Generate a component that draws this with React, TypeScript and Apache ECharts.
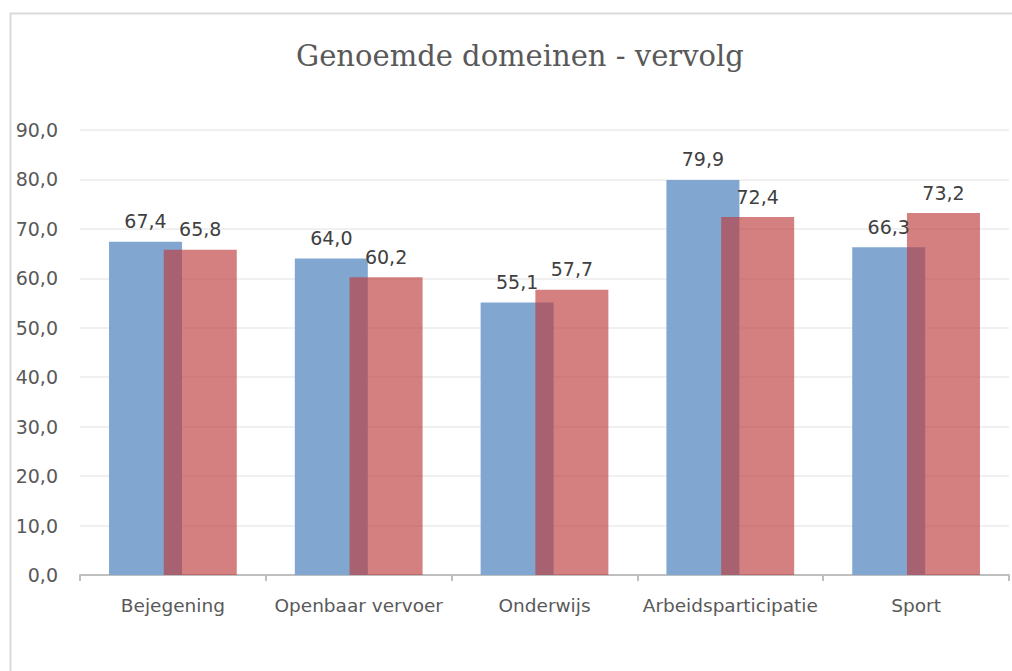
import React, { useEffect, useRef } from "react";
import * as echarts from "echarts";

const categories = ["Bejegening", "Openbaar vervoer", "Onderwijs", "Arbeidsparticipatie", "Sport"];
const seriesA = [67.4, 64.0, 55.1, 79.9, 66.3];
const seriesB = [65.8, 60.2, 57.7, 72.4, 73.2];
const titleText = "Genoemde domeinen - vervolg";

const fmt = (v: number) => v.toFixed(1).replace(".", ",");

export default function App() {
  const ref = useRef<HTMLDivElement>(null);
  useEffect(() => {
    if (!ref.current) return;
    document.body.style.margin = "0";
    document.body.style.overflow = "hidden";
    const chart = echarts.init(ref.current, null, { renderer: "svg" });
    const labelStyle = {
      show: true,
      position: "top",
      distance: 11,
      formatter: (p: any) => fmt(p.value),
      fontFamily: "DejaVu Sans",
      fontSize: 19,
      color: "#404040",
    };
    chart.setOption({
      animation: false,
      title: {
        text: titleText,
        left: 291,
        top: 36,
        textStyle: {
          fontFamily: "DejaVu Serif",
          fontSize: 29,
          fontWeight: "normal",
          color: "#595959",
        },
      },
      graphic: [
        {
          type: "rect",
          shape: { x: 10.5, y: 13.5, width: 1010, height: 700 },
          style: { fill: "none", stroke: "#D9D9D9", lineWidth: 2 },
          silent: true,
        },
      ],
      grid: { left: 80, right: 3, top: 130, bottom: 96 },
      xAxis: {
        type: "category",
        data: categories,
        axisLine: { lineStyle: { color: "#BFBFBF", width: 2 } },
        axisTick: { show: true, interval: 0, length: 6, lineStyle: { color: "#BFBFBF", width: 2 } },
        axisLabel: {
          interval: 0,
          fontFamily: "DejaVu Sans",
          fontSize: 18.5,
          color: "#595959",
          margin: 21,
        },
      },
      yAxis: {
        type: "value",
        min: 0,
        max: 90,
        interval: 10,
        axisLine: { show: false },
        axisTick: { show: false },
        splitLine: { lineStyle: { color: "#EBEBEB", width: 1.5 } },
        axisLabel: {
          formatter: (v: number) => fmt(v),
          fontFamily: "DejaVu Sans",
          fontSize: 19,
          color: "#595959",
          margin: 22,
        },
      },
      series: [
        {
          type: "bar",
          data: seriesA,
          barWidth: 73,
          barGap: "-25%",
          itemStyle: { color: "#81A7D0" },
          label: labelStyle,
        },
        {
          type: "bar",
          data: seriesB,
          barWidth: 73,
          itemStyle: { color: "rgba(189,60,62,0.65)" },
          label: labelStyle,
        },
      ],
    });
    return () => chart.dispose();
  }, []);
  return <div ref={ref} style={{ position: "absolute", left: 0, top: 0, width: 1012, height: 671 }} />;
}
